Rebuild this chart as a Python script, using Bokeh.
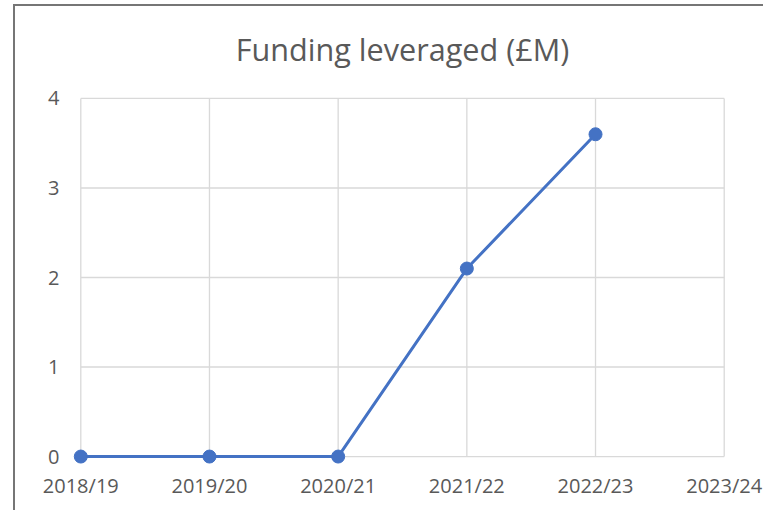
from bokeh.plotting import figure
from bokeh.models import Range1d, FixedTicker, Title, ColumnDataSource
from bokeh.embed import file_html
from bokeh.resources import INLINE

# ---- data ----
categories = ["2018/19", "2019/20", "2020/21", "2021/22", "2022/23", "2023/24"]
funding = [0, 0, 0, 2.1, 3.6, float("nan")]
y_ticks = [0, 1, 2, 3, 4]
title_text = "Funding leveraged (£M)"

FONT = "Open Sans"
TEXT = "#595959"
GRID = "#d9d9d9"
BLUE = "#4472C4"

idx = list(range(len(categories)))
x_pad, y_pad = 0.08, 0.1

p = figure(width=750, height=506, output_backend="svg", toolbar_location=None,
           x_range=Range1d(idx[0] - x_pad, idx[-1] + x_pad),
           y_range=Range1d(y_ticks[0] - y_pad, y_ticks[-1] + y_pad),
           min_border_left=55, min_border_right=31,
           min_border_top=83, min_border_bottom=47)
p.styles = {"margin-top": "4px", "margin-left": "13px",
            "border-left": "2px solid #767676", "border-top": "2px solid #767676"}
p.outline_line_color = None
p.background_fill_color = "white"
p.border_fill_color = "white"
p.xgrid.visible = False
p.ygrid.visible = False

# grid lines drawn from tick lists
p.segment(x0=idx, x1=idx, y0=[y_ticks[0]] * len(idx), y1=[y_ticks[-1]] * len(idx),
          line_color=GRID, line_width=1.3)
p.segment(x0=[idx[0]] * len(y_ticks), x1=[idx[-1]] * len(y_ticks), y0=y_ticks, y1=y_ticks,
          line_color=GRID, line_width=1.3)

src = ColumnDataSource(dict(x=idx, y=funding))
p.line("x", "y", source=src, line_color=BLUE, line_width=3)
p.scatter("x", "y", source=src, size=13, fill_color=BLUE, line_color=BLUE, marker="circle")

for ax in (p.xaxis[0], p.yaxis[0]):
    ax.axis_line_color = None
    ax.major_tick_line_color = None
    ax.minor_tick_line_color = None
    ax.major_tick_out = 0
    ax.major_tick_in = 0
    ax.minor_tick_out = 0
    ax.minor_tick_in = 0
    ax.major_label_text_font = FONT
    ax.major_label_text_color = TEXT
    ax.major_label_text_font_size = "20px"

p.xaxis[0].ticker = FixedTicker(ticks=idx)
p.xaxis[0].major_label_overrides = {i: c for i, c in zip(idx, categories)}
p.xaxis[0].major_label_standoff = 6
p.yaxis[0].ticker = FixedTicker(ticks=y_ticks)
p.yaxis[0].major_label_standoff = 11

p.add_layout(Title(text=title_text, align="center", standoff=39,
                   text_font=FONT, text_font_size="30.6px", text_color=TEXT,
                   text_font_style="normal"), "above")

open("out.html", "w").write(file_html(p, INLINE))
